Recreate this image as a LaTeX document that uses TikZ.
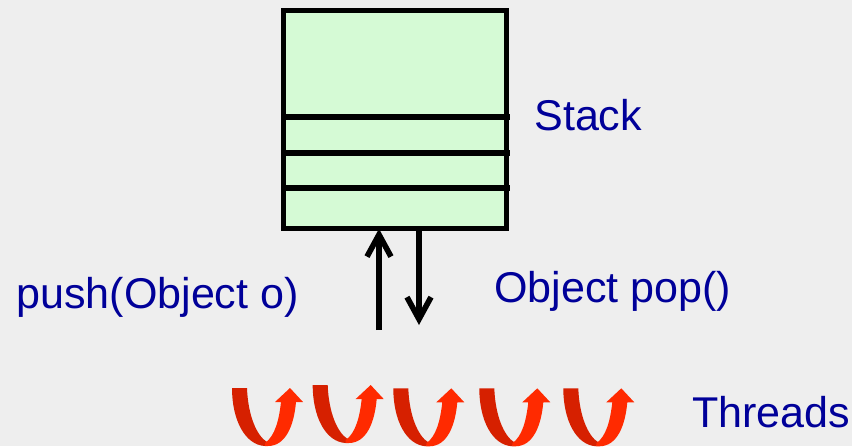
\documentclass[tikz,border=0pt]{standalone}
\usepackage{fontspec}
\setmainfont{Liberation Sans}
\usetikzlibrary{arrows.meta}
\definecolor{bgray}{HTML}{EEEEEE}
\definecolor{stackgreen}{HTML}{D5FAD5}
\definecolor{labelblue}{HTML}{000099}
\definecolor{threaddark}{HTML}{D62000}
\definecolor{threadred}{HTML}{FF2A00}
\tikzset{
  label/.style={text=labelblue,inner sep=0pt,anchor=base west,font=\fontsize{24.5}{29}\selectfont},
  op/.style={line width=3.2pt,-{Straight Barb[length=4.4mm,width=4.8mm]}},
  slot/.style={line width=3.2pt},
  thread/.pic={
    \fill[threaddark] (0,0) -- (15,0) .. controls (16,28) and (25,48) .. (35,54)
      -- (33,58) .. controls (13,57) and (0,32) .. cycle;
    \fill[threadred] (33,55) .. controls (43,48) and (47,32) .. (49,14) -- (43,14)
      -- (58,0) -- (71,14) -- (64,14) .. controls (62,37) and (54,58) .. (36,58)
      -- (33,58) -- cycle;
  }
}
\begin{document}
\begin{tikzpicture}[x=0.2mm,y=-0.2mm]
  \fill[bgray] (0,0) rectangle (852,446);
  \useasboundingbox (0,0) rectangle (852,446);
  % the stack and its slots
  \node[draw,fill=stackgreen,line width=2.8pt,inner sep=0pt,outer sep=0pt,
    minimum width=4.454cm,minimum height=4.358cm] (stack) at (395.3,119.8) {};
  \foreach \y in {117,153,188}
    \draw[slot] (stack.west |- 0,\y) -- (510,\y);
  % push and pop
  \coordinate (pushfrom) at (379,330);
  \coordinate (popto) at (419,325);
  \draw[op] (pushfrom) -- (pushfrom |- stack.south);
  \draw[op] (popto |- stack.south) -- (popto);
  \node[label] (stacklbl) at (534,130) {Stack};
  \node[label] (pushlbl) at (16,308) {push(Object o)};
  \node[label] (poplbl) at (494,302) {Object pop()};
  % threads
  \foreach \x/\y in {232/388,312.7/385,393.3/388.3,479.3/388.3,563.3/388.3}
    \pic at (\x,\y) {thread};
  \node[label] (threadlbl) at (692,427) {Threads};
\end{tikzpicture}
\end{document}
